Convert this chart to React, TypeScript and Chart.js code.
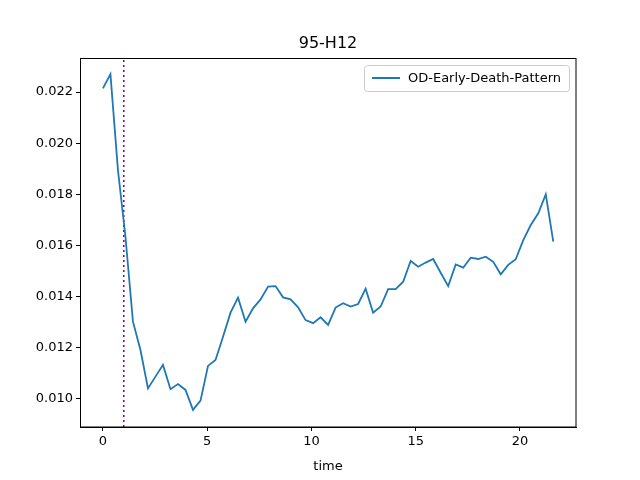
import { useEffect, useRef } from "react"
import { Chart, registerables } from "chart.js"

Chart.register(...registerables)

const odValues = [
  0.02214, 0.02270, 0.01895, 0.01634, 0.01302, 0.01191, 0.01041, 0.01087, 0.01133, 0.01038,
  0.01058, 0.01035, 0.00957, 0.00993, 0.01129, 0.01152, 0.01243, 0.01337, 0.01396, 0.01302,
  0.01354, 0.01389, 0.01439, 0.01441, 0.01397, 0.01389, 0.01358, 0.01308, 0.01296, 0.01319,
  0.01289, 0.01357, 0.01374, 0.01361, 0.01371, 0.01431, 0.01337, 0.01361, 0.01429, 0.01429,
  0.01458, 0.01539, 0.01517, 0.01533, 0.01547, 0.01493, 0.01441, 0.01526, 0.01513, 0.01552,
  0.01547, 0.01556, 0.01536, 0.01487, 0.01524, 0.01546, 0.01621, 0.01680, 0.01726, 0.01800,
  0.01615,
]
const timeStep = 0.36
const markerTime = 1
const xTicks = [0, 5, 10, 15, 20]
const yTicks = [0.010, 0.012, 0.014, 0.016, 0.018, 0.020, 0.022]
const seriesLabel = "OD-Early-Death-Pattern"
const chartTitle = "95-H12"

const FONT = "'DejaVu Sans', sans-serif"

const framePlugin = {
  id: "frame",
  afterDraw(chart: any) {
    const { ctx, chartArea: a } = chart
    ctx.save()
    ctx.strokeStyle = "#000"
    ctx.lineWidth = 1
    ctx.strokeRect(a.left + 0.5, a.top + 0.5, a.right - a.left - 0.5, a.bottom - a.top - 0.5)
    ctx.fillStyle = "#000"
    ctx.font = `16px ${FONT}`
    ctx.textAlign = "center"
    ctx.textBaseline = "bottom"
    ctx.fillText(chartTitle, (a.left + a.right) / 2, a.top - 6)
    // legend box, upper right
    ctx.font = `13px ${FONT}`
    const tw = ctx.measureText(seriesLabel).width
    const w = tw + 52
    const h = 26
    const x0 = a.right - 7 - w
    const y0 = a.top + 7
    ctx.fillStyle = "rgba(255,255,255,0.8)"
    ctx.strokeStyle = "#ccc"
    ctx.beginPath()
    ctx.roundRect(x0 + 0.5, y0 + 0.5, w, h, 3)
    ctx.fill()
    ctx.stroke()
    ctx.strokeStyle = "#1f77b4"
    ctx.lineWidth = 2
    ctx.beginPath()
    ctx.moveTo(x0 + 8, y0 + h / 2)
    ctx.lineTo(x0 + 36, y0 + h / 2)
    ctx.stroke()
    ctx.fillStyle = "#000"
    ctx.textAlign = "left"
    ctx.textBaseline = "middle"
    ctx.fillText(seriesLabel, x0 + 44, y0 + h / 2 + 1)
    ctx.restore()
  },
}

export default function App() {
  const ref = useRef<HTMLCanvasElement>(null)

  useEffect(() => {
    if (!ref.current) return
    document.body.style.margin = "0"
    const points = odValues.map((v, i) => ({ x: i * timeStep, y: v }))
    const chart = new Chart(ref.current, {
      type: "line",
      data: {
        datasets: [
          {
            label: seriesLabel,
            data: points,
            borderColor: "#1f77b4",
            borderWidth: 1.8,
            pointRadius: 0,
            tension: 0,
          },
          {
            label: "marker",
            data: [{ x: markerTime, y: 0.0089 }, { x: markerTime, y: 0.02333 }],
            borderColor: "#800080",
            borderWidth: 1.5,
            borderDash: [2, 3],
            pointRadius: 0,
          },
        ],
      },
      options: {
        animation: false,
        responsive: false,
        layout: { padding: { top: 58, right: 64, left: 0, bottom: 0 } },
        plugins: { legend: { display: false }, tooltip: { enabled: false } },
        scales: {
          x: {
            type: "linear",
            min: -1.1,
            max: 22.69,
            afterBuildTicks: (s: any) => { s.ticks = xTicks.map((v) => ({ value: v })) },
            afterFit: (s: any) => { s.height = 53 },
            grid: { drawOnChartArea: false, drawTicks: true, tickLength: 4, color: "#000" },
            border: { color: "#000" },
            ticks: { color: "#000", font: { family: FONT, size: 13 }, padding: 3, maxRotation: 0 },
            title: { display: true, text: "time", color: "#000", font: { family: FONT, size: 13 }, padding: { top: 0, bottom: 6 } },
          },
          y: {
            min: 0.0089,
            max: 0.02333,
            afterBuildTicks: (s: any) => { s.ticks = yTicks.map((v) => ({ value: v })) },
            afterFit: (s: any) => { s.width = 80 },
            grid: { drawOnChartArea: false, drawTicks: true, tickLength: 4, color: "#000" },
            border: { color: "#000" },
            ticks: { color: "#000", font: { family: FONT, size: 13 }, padding: 3, callback: (v: any) => Number(v).toFixed(3) },
          },
        },
      },
      plugins: [framePlugin],
    })
    return () => { chart.destroy() }
  }, [])

  return <canvas ref={ref} width={640} height={480} style={{ display: "block" }} />
}
